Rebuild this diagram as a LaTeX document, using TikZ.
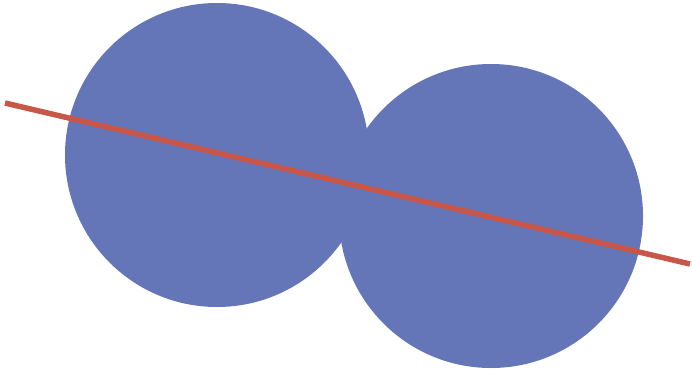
\documentclass[tikz,border=0pt]{standalone}
\definecolor{disc}{HTML}{6476B8}
\definecolor{cut}{HTML}{C8574A}
\begin{document}
\begin{tikzpicture}[x=1pt,y=-1pt,
  discstyle/.style={fill=disc,draw=none},
  cutline/.style={draw=cut,line width=5.5pt,line cap=butt}]
\useasboundingbox (0,0) rectangle (692,372);
\fill[discstyle] (217,155) circle (152);
\fill[discstyle] (491,216) circle (152);
\coordinate (p) at (5,103);
\coordinate (q) at (690,264);
\draw[cutline] (p) -- (q);
\end{tikzpicture}
\end{document}
